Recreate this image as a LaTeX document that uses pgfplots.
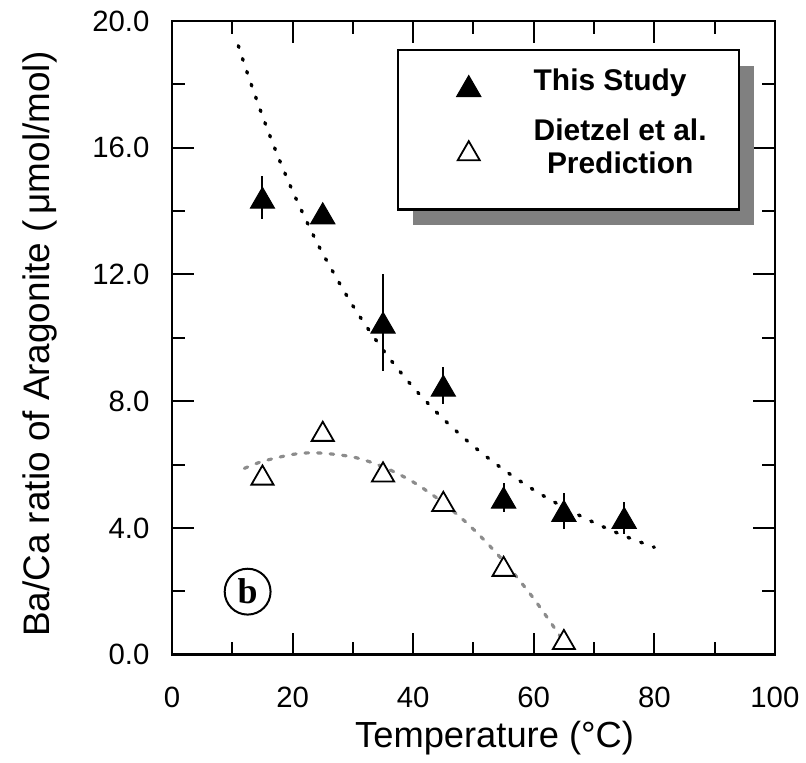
\documentclass[border=0pt]{standalone}
\usepackage{fontspec}
\setmainfont{Liberation Sans}
\newfontfamily\serifb{Liberation Serif}
\usepackage{pgfplots}
\usepackage{pgfplotstable}
\pgfplotsset{compat=1.18}

\pgfplotstableread{
x y e
15 14.42 0.68
25 13.93 0.0
35 10.48 1.52
45 8.49 0.58
55 4.96 0.47
65 4.54 0.56
75 4.32 0.50
}\study

\pgfplotstableread{
x y
15 5.67
25 7.05
35 5.77
45 4.84
55 2.79
65 0.48
}\dietzel

\pgfplotstableread{
x y
11 19.22
12.5 18.35
15 17.00
17.5 15.76
20 14.63
22.5 13.61
25 12.66
30 11.01
35 9.62
40 8.44
45 7.44
50 6.58
55 5.84
60 5.20
65 4.65
70 4.17
75 3.75
80 3.39
}\fitstudy

\pgfplotstableread{
x y
12 5.88
15 6.10
20 6.32
24 6.37
30 6.24
35 5.93
40 5.45
45 4.79
50 3.96
55 2.95
60 1.77
64.5 0.55
}\fitdietzel

\begin{document}
\begin{tikzpicture}
\begin{axis}[
  width=302.25pt, height=317.75pt, scale only axis,
  xmin=0, xmax=100, ymin=0, ymax=20,
  xtick distance=20, ytick distance=4,
  minor x tick num=1, minor y tick num=1,
  tick align=inside, xtick pos=both, ytick pos=both,
  xticklabel pos=lower, yticklabel pos=left,
  major tick length=11pt, minor tick length=6.3pt,
  every tick/.style={black, line width=1pt},
  axis line style={line width=1.25pt},
  /pgf/number format/assume math mode=true,
  tick label style={font=\fontsize{14.7}{17.6}\selectfont},
  yticklabel style={/pgf/number format/fixed, /pgf/number format/fixed zerofill, /pgf/number format/precision=1, anchor=east, xshift=-7.85pt},
  xticklabel style={anchor=center, yshift=-21.25pt},
  xlabel={Temperature (°C)},
  ylabel={Ba/Ca ratio of Aragonite (\,μmol/mol)},
  xlabel style={font=\fontsize{18.2}{21.8}\selectfont, at={(axis description cs:0.535,-0.1471)}, anchor=base},
  ylabel style={font=\fontsize{18.5}{22.2}\selectfont, at={(axis description cs:-0.2026,0.49)}, anchor=base},
  clip=false,
  legend style={at={(axis description cs:0,1)}, anchor=north west, xshift=142.5pt, yshift=-21.75pt,
    draw=none, fill=none, inner sep=0pt, column sep=24.5pt, row sep=9pt,
    font=\bfseries\fontsize{15}{16.5}\selectfont, cells={anchor=west}},
  legend cell align=left,
  legend image code/.code={\draw[#1] plot coordinates {(0pt,0pt)};},
]
\coordinate (O) at (rel axis cs:0,0);
\addplot[black, line width=1.7pt, line cap=round, dash pattern=on 0.9pt off 5.9pt, smooth, forget plot] table {\fitstudy};
\addplot[black!45, line width=1.6pt, line cap=round, dash pattern=on 1.8pt off 4.5pt, smooth, forget plot] table {\fitdietzel};
\fill[black!50, xshift=7.5pt, yshift=-8pt] (axis description cs:0.3747,0.9544) rectangle (axis description cs:0.9404,0.7026);
\draw[line width=1.25pt, fill=white] (axis description cs:0.3747,0.9544) rectangle (axis description cs:0.9404,0.7026);
\addplot[only marks, mark=triangle*, mark size=7pt, mark options={black, fill=black, line width=0.5pt, yshift=-1.75pt},
  error bars/.cd, y dir=both, y explicit, error mark=none, error bar style={line width=1pt, black}]
  table[x=x, y=y, y error=e] {\study};
\addlegendentry[yshift=2.5pt]{This Study}
\addplot[only marks, mark=triangle*, mark size=6.4pt, mark options={draw=black, fill=white, line width=0.9pt, yshift=-1.6pt}]
  table {\dietzel};
\addlegendentry[yshift=1.5pt]{\shortstack{Dietzel et al.\\\rule{0pt}{13pt}Prediction}}
\node[circle, draw, line width=1pt, minimum size=23pt, inner sep=0pt, font=\serifb\bfseries\fontsize{18}{18}\selectfont] at (axis cs:12.54,1.99) {b};
\end{axis}
\path (O) ++(-86.25pt,-50.75pt) rectangle ++(403pt,379pt);
\end{tikzpicture}
\end{document}
